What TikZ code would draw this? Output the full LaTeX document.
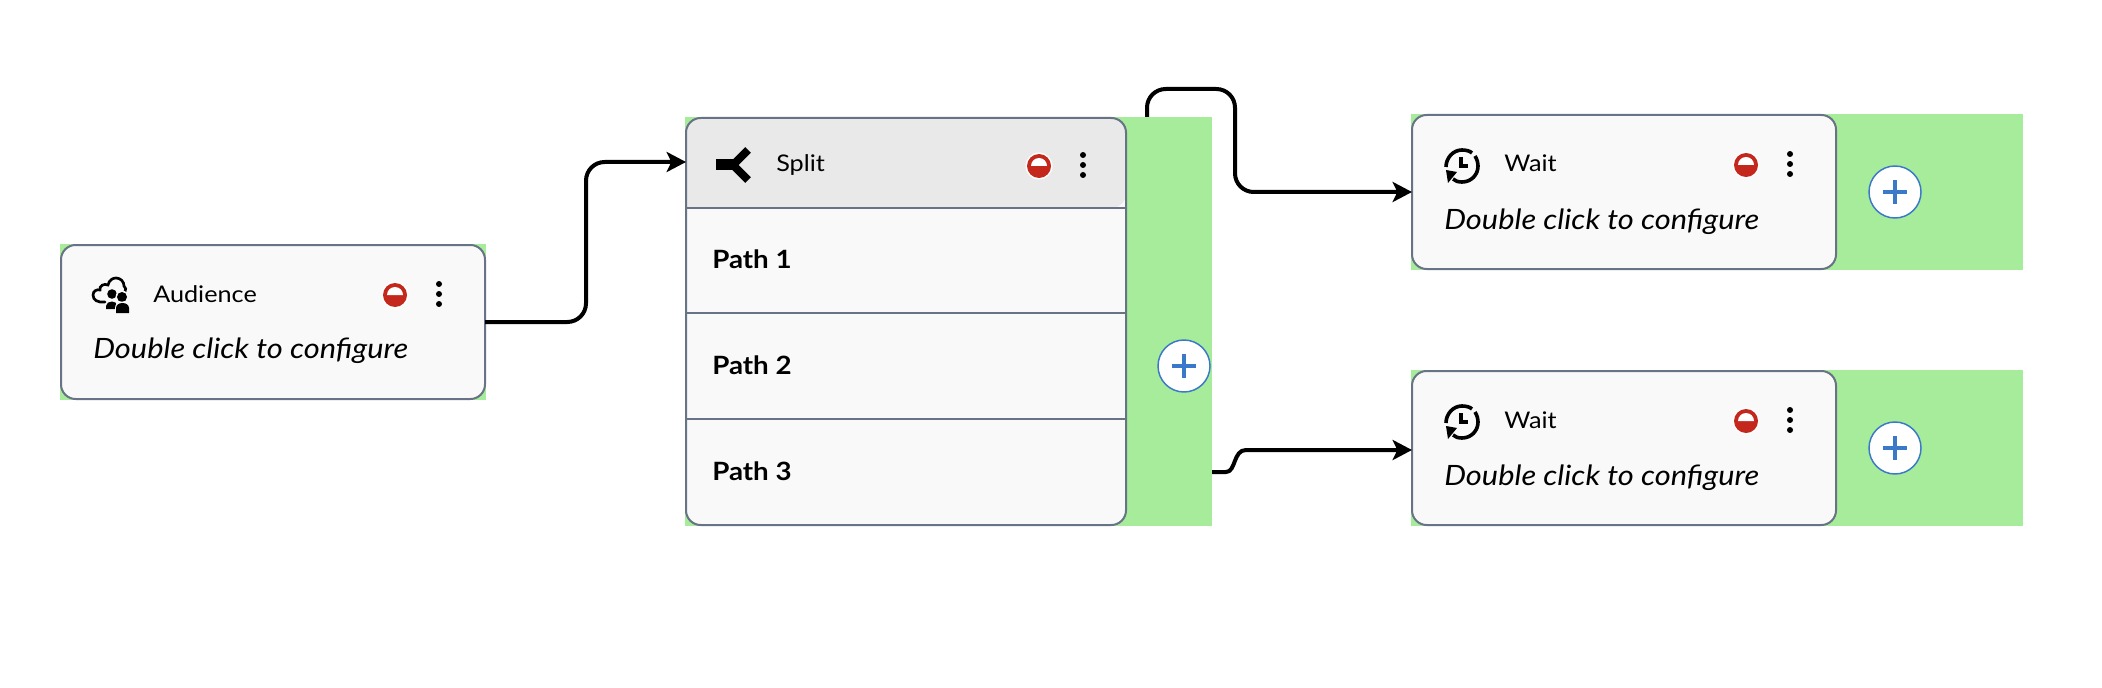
\documentclass[tikz,border=0pt]{standalone}
\usepackage{fontspec}
\setmainfont[FakeStretch=1.1]{Lato}
\usetikzlibrary{arrows.meta,positioning}
\definecolor{areagreen}{HTML}{A6EC9A}
\definecolor{cardfill}{HTML}{F9F9F9}
\definecolor{headfill}{HTML}{E9E9E9}
\definecolor{cardline}{HTML}{687386}
\definecolor{stopred}{HTML}{C4281C}
\definecolor{plusblue}{HTML}{3A78C9}
\tikzset{
  x=0.75pt,y=-0.75pt,
  greenarea/.style={fill=areagreen,draw=none,inner sep=0pt,outer sep=0pt,anchor=north west},
  cardbox/.style={fill=cardfill,draw=cardline,line width=1.5pt,rounded corners=11pt,inner sep=0pt,outer sep=0pt,anchor=north west},
  cardrim/.style={draw=cardline,line width=1.5pt,rounded corners=11pt},
  ghost/.style={draw=none,fill=none,inner sep=0pt,outer sep=0pt,anchor=north west},
  title/.style={anchor=base west,inner sep=0pt,font=\fontsize{17.2pt}{20pt}\selectfont},
  hint/.style={anchor=base west,inner sep=0pt,font=\fontsize{21pt}{24pt}\selectfont\itshape},
  pathlabel/.style={anchor=base west,inner sep=0pt,font=\fontsize{18.9pt}{22pt}\selectfont\bfseries},
  conn/.style={draw=black,line width=3pt,-{Stealth[length=14.5pt,width=15pt,inset=3.5pt]},line join=round},
  divider/.style={draw=cardline,line width=1.2pt},
  addbtn/.style={circle,draw=plusblue,fill=white,line width=1.1pt,minimum size=39pt,inner sep=0pt},
  pics/stopicon/.style={code={
    \fill[white] (0,0) circle[radius=13.5];
    \fill[stopred] (0,0) circle[radius=12];
    \fill[white] (-8,0) arc (180:360:8) -- cycle;
  }},
  pics/moreicon/.style={code={
    \fill[black] (0,-10) circle[radius=3];
    \fill[black] (0,0) circle[radius=3];
    \fill[black] (0,10) circle[radius=3];
  }},
  pics/plusicon/.style={code={
    \draw[plusblue,line width=3pt] (-12,0) -- (12,0) (0,-12) -- (0,12);
  }},
  pics/clockicon/.style={code={
    \draw[black,line width=2.7pt] (-16,1) .. controls (-16,-8) and (-9,-16) .. (0,-16) .. controls (4,-16) and (8,-15) .. (10,-13);
    \draw[black,line width=2.7pt] (13,-10) .. controls (15,-7) and (16,-3) .. (16,0) .. controls (16,9) and (9,16) .. (0,16) .. controls (-4,16) and (-7,15) .. (-9,13);
    \fill[black] (-16,4) -- (-5,6) -- (-14,17) -- cycle;
    \draw[black,line width=2.4pt] (-1,-9) -- (-1,0) -- (6,0);
  }},
  pics/spliticon/.style={code={
    \fill[black] (-17,-5.5) rectangle (2,5.5);
    \draw[black,line width=6pt] (0,0) -- (15,-15) (0,0) -- (15,15);
  }},
  pics/cloudicon/.style={code={
    \draw[black,line width=2pt,line cap=round] (-6,7) .. controls (-13,8) and (-18,5) .. (-18,0)
      .. controls (-18,-4) and (-14,-6) .. (-11,-5) .. controls (-12,-9) and (-7,-12) .. (-3,-10)
      .. controls (-2,-15) and (2,-17) .. (5,-17) .. controls (10,-17) and (13,-13) .. (13,-9)
      .. controls (15,-8) and (15,-5) .. (14,-3);
    \fill[black] (1,-1) circle[radius=4.8];
    \fill[black] (-5,14) -- (-5,11) .. controls (-5,8) and (-2,6.5) .. (1,6.5) .. controls (4,6.5) and (6,8) .. (6,11) -- (6,14) -- cycle;
    \fill[cardfill] (11,2) circle[radius=6.5];
    \fill[black] (11,2) circle[radius=5];
    \fill[cardfill] (4,19) -- (4,13) .. controls (4,9) and (7,6.5) .. (11.5,6.5) .. controls (16,6.5) and (19,9) .. (19,13) -- (19,19) -- cycle;
    \fill[black] (5,18) -- (5,13) .. controls (5,10) and (8,8) .. (11.5,8) .. controls (15,8) and (18,10) .. (18,13) -- (18,18) -- cycle;
  }},
}
\begin{document}
\begin{tikzpicture}
\useasboundingbox (0,0) rectangle (2102,688);
% green areas
\node[greenarea,minimum width=319.5pt,minimum height=117pt] (audarea) at (60,244) {};
\node[greenarea,minimum width=395.25pt,minimum height=306.75pt] (splitarea) at (685,117) {};
\node[greenarea,minimum width=459pt,minimum height=117pt] (w1area) at (1411,114) {};
\node[greenarea,minimum width=459pt,minimum height=117pt] (w2area) at (1411,370) {};
% audience card
\node[cardbox,minimum width=318pt,minimum height=115.5pt] (aud) at (61,245) {};
\pic at (111,295) {cloudicon};
\node[title] (audtitle) at (153,302) {Audience};
\pic at (395,295) {stopicon};
\pic at (439,294) {moreicon};
\node[hint] (audhint) at (93,358) {Double click to configure};
% split card
\node[cardbox,draw=none,minimum width=330pt,minimum height=305.25pt] (split) at (686,118) {};
\fill[headfill] (686,208) [rounded corners=11pt] -- (686,118) -- (1126,118) -- (1126,208) [sharp corners] -- cycle;
\draw[cardrim] (split.north west) rectangle (split.south east);
\node[ghost,minimum width=330pt,minimum height=66pt] (splithead) at (686,118) {};
\draw[divider] (686,208) -- (1126,208);
\draw[divider] (686,313) -- (1126,313);
\draw[divider] (686,419) -- (1126,419);
\pic at (733,165) {spliticon};
\node[title] (splittitle) at (776,172) {Split};
\pic at (1039,166) {stopicon};
\pic at (1083,165) {moreicon};
\node[pathlabel] (p1) at (712,268) {Path 1};
\node[pathlabel] (p2) at (712,374) {Path 2};
\node[pathlabel] (p3) at (712,480) {Path 3};
\node[addbtn] (addsplit) at (1184,366) {};
\pic at (addsplit) {plusicon};
% wait cards
\node[cardbox,minimum width=318pt,minimum height=115.5pt] (w1) at (1412,115) {};
\pic at (1462,166) {clockicon};
\node[title] (w1title) at (1504,172) {Wait};
\pic at (1746,165) {stopicon};
\pic at (1790,164) {moreicon};
\node[hint] (w1hint) at (1444,229) {Double click to configure};
\node[addbtn] (add1) at (1895,192) {};
\pic at (add1) {plusicon};
\node[cardbox,minimum width=318pt,minimum height=115.5pt] (w2) at (1412,371) {};
\pic at (1462,422) {clockicon};
\node[title] (w2title) at (1504,428) {Wait};
\pic at (1746,421) {stopicon};
\pic at (1790,420) {moreicon};
\node[hint] (w2hint) at (1444,485) {Double click to configure};
\node[addbtn] (add2) at (1895,448) {};
\pic at (add2) {plusicon};
% connectors
\coordinate (bend1) at (586,322);
\draw[conn,rounded corners=14pt] (aud.east) -- (bend1) |- (splithead.west);
\coordinate (splitout) at (1147,117);
\coordinate (topleft) at (1147,89);
\coordinate (topright) at (1235,89);
\draw[conn,rounded corners=14pt] (splitout) -- (topleft) -- (topright) |- (w1.west);
\coordinate (pathout) at (1212,472);
\coordinate (w2in) at (1412,450);
\draw[conn] (pathout) -- (1226,472) .. controls (1236,472) and (1233,450) .. (1246,450) -- (w2in);
\end{tikzpicture}
\end{document}
